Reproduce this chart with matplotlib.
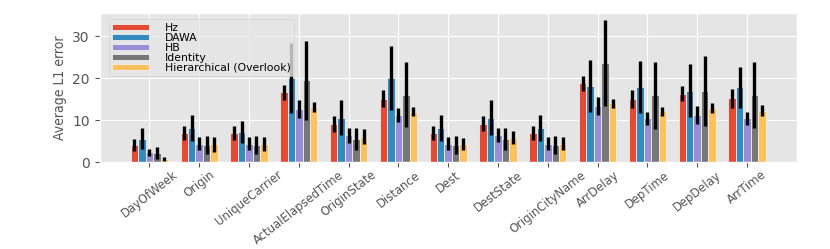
import matplotlib.pyplot as plt
import numpy as np

plt.style.use('ggplot')

features = ["DayOfWeek", "Origin", "UniqueCarrier", "ActualElapsedTime", "OriginState",
            "Distance", "Dest", "DestState", "OriginCityName", "ArrDelay", "DepTime",
            "DepDelay", "ArrTime"]

hz = [4.0, 6.9, 6.9, 16.6, 9.1, 15.1, 6.9, 9.1, 6.9, 18.8, 15.1, 16.3, 15.2]
hz_err = [1.4, 1.7, 1.7, 1.8, 1.9, 2.0, 1.7, 1.8, 1.7, 1.8, 2.1, 1.8, 2.2]
dawa = [5.6, 8.2, 7.2, 20.0, 10.6, 20.0, 8.2, 10.6, 8.2, 18.2, 17.9, 17.0, 17.8]
dawa_err = [2.5, 3.1, 2.6, 8.3, 4.2, 7.6, 3.1, 4.1, 3.1, 6.2, 6.3, 6.3, 4.8]
hb = [2.3, 4.4, 4.4, 12.6, 6.4, 11.2, 4.4, 6.4, 4.4, 13.4, 10.4, 11.2, 10.4]
hb_err = [0.9, 1.6, 1.5, 2.2, 1.8, 1.7, 1.5, 1.7, 1.5, 2.2, 1.6, 2.2, 1.6]
ident = [2.2, 4.1, 4.1, 19.5, 5.5, 16.1, 4.1, 5.6, 4.1, 23.6, 15.9, 17.0, 16.0]
ident_err = [1.4, 2.1, 2.1, 9.4, 2.7, 7.8, 2.1, 2.6, 2.1, 10.3, 7.9, 8.3, 7.9]
hier = [0.8, 4.2, 4.4, 13.2, 6.1, 12.0, 4.3, 5.8, 4.4, 14.0, 12.1, 12.8, 12.3]
hier_err = [0.5, 1.8, 1.7, 1.2, 1.7, 1.1, 1.4, 1.5, 1.5, 1.0, 1.1, 1.2, 1.3]

series = [("Hz", hz, hz_err), ("DAWA", dawa, dawa_err), ("HB", hb, hb_err),
          ("Identity", ident, ident_err), ("Hierarchical (Overlook)", hier, hier_err)]

fig, ax = plt.subplots(figsize=(8.3, 2.49), dpi=100)
fig.subplots_adjust(left=0.12, right=0.96, top=0.947, bottom=0.349)

x = np.arange(len(features))
w = 0.15
for i, (name, vals, errs) in enumerate(series):
    ax.bar(x + (i - 2) * w, vals, w, yerr=errs, label=name,
           edgecolor='#EEEEEE', linewidth=0.6,
           error_kw=dict(ecolor='black', elinewidth=2.4, capsize=0))

ax.set_xlim(-1, 13)
ax.set_ylim(0, 35.5)
ax.set_yticks([0, 10, 20, 30])
ax.tick_params(axis='y', labelsize=10)
ax.tick_params(axis='x', pad=1)
ax.set_xticks(x)
ax.set_xticklabels(features, rotation=38, ha='center', fontsize=9.3,
                   fontstretch='condensed')
ax.set_ylabel("Average L1 error", fontsize=10, fontstretch='condensed')

ax.legend(loc='upper left', fontsize=7.8, labelspacing=0.0, handlelength=3.4,
          handleheight=0.45, borderpad=0.3, handletextpad=1.5, framealpha=0.8,
          bbox_to_anchor=(0.005, 0.995))

plt.savefig("out.png", dpi=100)
